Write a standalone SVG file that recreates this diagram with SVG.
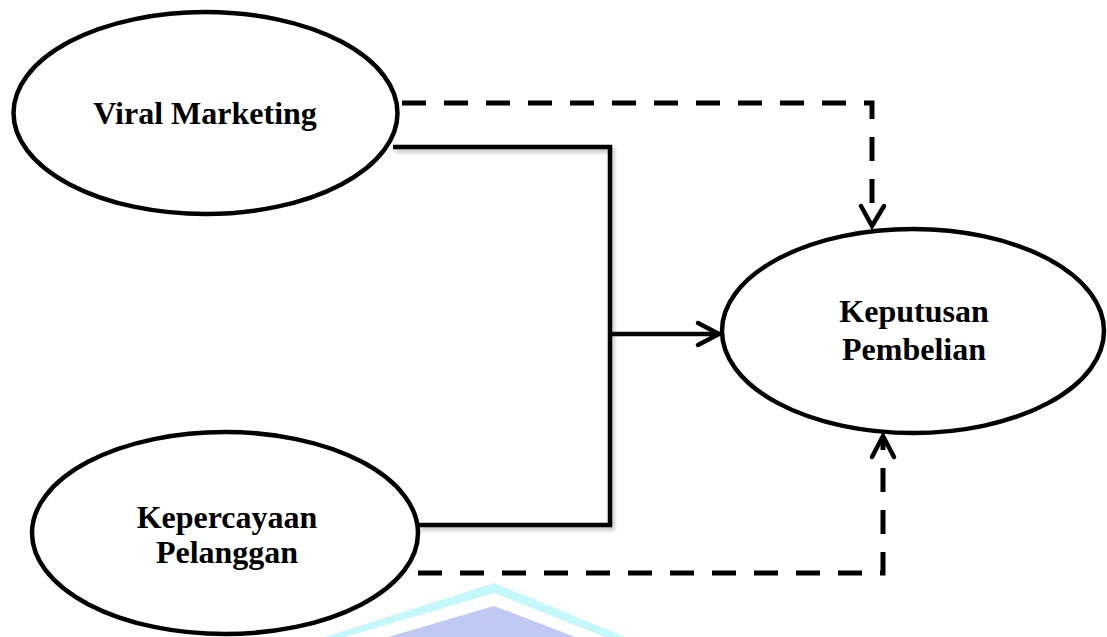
<svg xmlns="http://www.w3.org/2000/svg" width="1107" height="637" viewBox="0 0 1107 637">
<style>
.node{fill:#fff;stroke:#000;stroke-width:4.5}
.lbl{font-family:"Liberation Serif","Times New Roman",serif;font-weight:bold;font-size:32px;fill:#000;text-anchor:middle}
.solid{fill:none;stroke:#000;stroke-width:4.5;stroke-linejoin:miter}
.dash{fill:none;stroke:#000;stroke-width:5;stroke-dasharray:24 18}
.head{fill:none;stroke:#000;stroke-width:4.5;stroke-linecap:round;stroke-linejoin:miter}
</style>
<defs>
<filter id="sh" x="-5%" y="-5%" width="110%" height="110%">
<feDropShadow dx="2" dy="3" stdDeviation="2" flood-color="#000" flood-opacity="0.25"/>
</filter>
</defs>
<rect width="1107" height="637" fill="#fff"/>
<g id="watermark">
<path d="M325 637 L494 583 L625 637 Z" fill="#c4f8fb"/>
<path d="M345 637 L494 593 L605 637 Z" fill="#fff"/>
<path d="M388 637 L494 606 L575 637 Z" fill="#c0c8f4"/>
</g>
<g id="connectors">
<path class="solid" filter="url(#sh)" d="M393 147 H610 V525 H418"/>
<path class="solid" d="M610 334 H718"/>
<path class="head" d="M698 323 L719 334 L698 345"/>
<path class="dash" d="M402 103 H872 V224"/>
<path class="head" d="M861 206 L872 226 L884 206"/>
<path class="dash" d="M418 573 H883 V440"/>
<path class="head" d="M872 457 L883 436 L894 457"/>
</g>
<g id="viral">
<ellipse class="node" cx="205.5" cy="113" rx="192" ry="101"/>
<text class="lbl" x="205" y="124">Viral Marketing</text>
</g>
<g id="kepercayaan">
<ellipse class="node" cx="225" cy="533" rx="193" ry="101"/>
<text class="lbl" x="227" y="528">Kepercayaan</text>
<text class="lbl" x="227" y="563">Pelanggan</text>
</g>
<g id="keputusan">
<ellipse class="node" cx="913" cy="331" rx="191" ry="102"/>
<text class="lbl" x="914" y="322">Keputusan</text>
<text class="lbl" x="914" y="360">Pembelian</text>
</g>
</svg>
